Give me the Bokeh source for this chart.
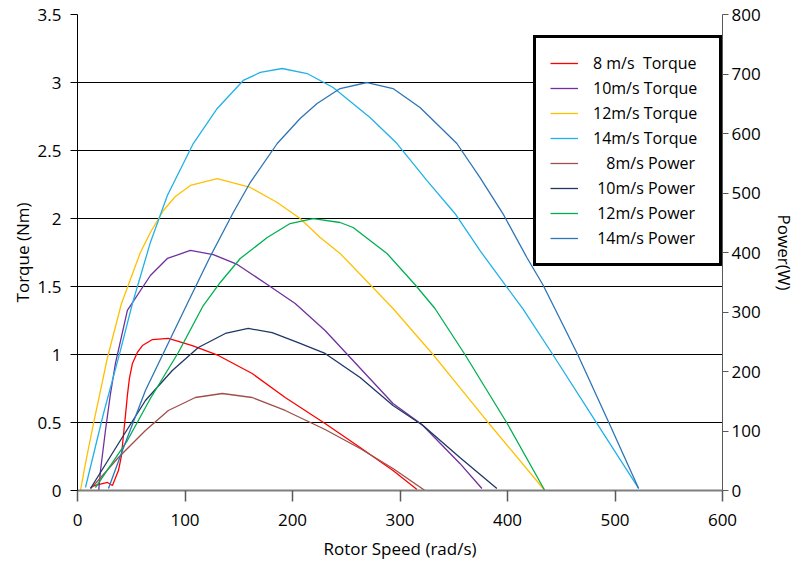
from bokeh.plotting import figure
from bokeh.models import (Range1d, LinearAxis, FixedTicker, Legend, LegendItem,
                          NumeralTickFormatter)
from bokeh.embed import file_html
from bokeh.resources import INLINE

# ---------------- data ----------------
speed_ticks = [0, 100, 200, 300, 400, 500, 600]
torque_ticks = [0, 0.5, 1, 1.5, 2, 2.5, 3, 3.5]
power_ticks = [0, 100, 200, 300, 400, 500, 600, 700, 800]

# torque curves (left axis, Nm)
t8_speed = [12.1, 16.7, 23.2, 27.9, 32.5, 38.1, 40.9, 42.7, 44.6, 46.4, 48.3, 51.1, 55.7,
            60.4, 69.7, 84.5, 106.8, 131.0, 162.5, 193.2, 230.3, 262.9, 293.5, 315.8]
t8_torque = [0.022, 0.037, 0.051, 0.059, 0.037, 0.147, 0.257, 0.404, 0.551, 0.699, 0.824,
             0.934, 1.015, 1.066, 1.110, 1.118, 1.066, 0.993, 0.860, 0.684, 0.493, 0.316,
             0.147, 0.007]

t10_speed = [19.5, 21.4, 26.0, 30.7, 35.3, 46.4, 67.8, 83.6, 105.0, 126.3, 148.6, 176.5,
             202.5, 230.3, 293.5, 320.4, 355.7, 376.2]
t10_torque = [-0.022, 0.147, 0.441, 0.713, 0.934, 1.324, 1.581, 1.706, 1.765, 1.735, 1.662,
              1.515, 1.375, 1.176, 0.640, 0.485, 0.199, 0.015]

t12_speed = [2.8, 7.4, 14.9, 27.9, 40.9, 58.5, 67.8, 79.9, 91.0, 105.0, 130.0, 160.7, 185.8,
             207.1, 225.7, 244.3, 272.1, 293.5, 330.7, 355.7, 383.6, 434.7]
t12_torque = [0.0, 0.199, 0.493, 0.978, 1.375, 1.750, 1.897, 2.059, 2.162, 2.243, 2.294,
              2.228, 2.118, 2.000, 1.860, 1.743, 1.515, 1.338, 1.000, 0.757, 0.485, 0.0]

t14_speed = [7.4, 24.2, 39.9, 51.1, 67.8, 83.6, 107.7, 130.0, 154.2, 170.0, 190.4, 213.6,
             237.8, 272.1, 297.2, 325.1, 351.1, 374.3, 397.5, 414.2, 442.1, 483.9, 522.0]
t14_torque = [0.022, 0.566, 1.029, 1.375, 1.824, 2.169, 2.551, 2.809, 3.015, 3.074, 3.103,
              3.066, 2.963, 2.743, 2.551, 2.279, 2.037, 1.765, 1.515, 1.338, 1.000, 0.485,
              0.015]

# power curves (right axis, W)
p8_speed = [12.1, 16.7, 38.1, 63.2, 84.5, 109.6, 134.7, 162.5, 193.2, 230.3, 262.9, 293.5,
            323.2]
p8_power = [3.4, 11.8, 55.5, 100.8, 134.5, 156.3, 163.0, 156.3, 134.5, 102.5, 70.6, 37.0, 0]

p10_speed = [12.1, 38.1, 63.2, 88.2, 112.4, 137.5, 158.8, 181.1, 205.3, 230.3, 262.9, 293.5,
             321.4, 355.7, 390.1]
p10_power = [3.4, 79.0, 151.3, 201.7, 240.3, 263.9, 272.3, 265.5, 248.7, 230.3, 189.9,
             142.9, 109.2, 55.5, 3.4]

p12_speed = [16.7, 46.4, 67.8, 93.8, 117.0, 132.8, 151.4, 176.5, 197.8, 219.2, 244.3, 256.4,
             287.9, 313.9, 332.5, 360.4, 400.3, 434.7]
p12_power = [5.0, 84.0, 154.6, 231.9, 310.9, 349.6, 389.9, 425.2, 448.7, 457.1, 450.4,
             442.0, 398.3, 346.2, 305.9, 228.6, 110.9, 0]

p14_speed = [28.8, 41.8, 63.2, 102.2, 123.5, 144.9, 160.7, 185.8, 207.1, 222.9, 244.3, 269.4,
             293.5, 318.6, 352.9, 374.3, 395.7, 418.0, 432.8, 444.0, 465.3, 495.1, 522.0]
p14_power = [3.4, 67.2, 168.1, 314.3, 393.3, 467.2, 517.6, 583.2, 625.2, 650.4, 675.6, 685.7,
             675.6, 643.7, 583.2, 526.1, 465.5, 391.6, 346.2, 305.9, 228.6, 110.9, 3.4]

legend_labels = ["8 m/s\u00a0 Torque", "10m/s Torque", "12m/s Torque", "14m/s Torque",
                 "\u2007\u00a08m/s Power", "\u00a010m/s Power", "\u00a012m/s Power",
                 "\u00a014m/s Power"]
legend_colors = ["#4A86C8", "#7A3FB0", "#FFC000", "#22B8F0",
                 "#2A7CC6", "#95B3D7", "#3DBE6E", "#FF3333"]

# ---------------- figure ----------------
FONT = "Open Sans"

p = figure(width=798, height=562, x_range=Range1d(0, 600), y_range=Range1d(0, 3.5),
           output_backend="svg", toolbar_location=None,
           min_border_left=77, min_border_right=75, min_border_top=14, min_border_bottom=72)
p.extra_y_ranges = {"power": Range1d(0, 800)}
p.outline_line_color = None
p.background_fill_color = "white"

p.xgrid.visible = False
p.ygrid.grid_line_color = "black"
p.ygrid.grid_line_width = 1
p.ygrid.ticker = FixedTicker(ticks=torque_ticks)

# bottom axis
xa = p.xaxis[0]
xa.ticker = FixedTicker(ticks=speed_ticks)
xa.axis_label = "Rotor Speed (rad/s)"
xa.axis_line_color = "#7F7F7F"
xa.axis_line_width = 2
xa.major_tick_line_color = "#595959"
xa.major_tick_line_width = 1.5
xa.major_tick_out = 11
xa.major_tick_in = 0
xa.major_label_standoff = 12
xa.axis_label_standoff = 8

# left axis
ya = p.yaxis[0]
ya.ticker = FixedTicker(ticks=torque_ticks)
ya.formatter = NumeralTickFormatter(format="0.[0]")
ya.axis_label = "Torque (Nm)"
ya.axis_line_color = "black"
ya.major_tick_line_color = "black"
ya.major_tick_out = 7
ya.major_tick_in = 0
ya.major_label_standoff = 9
ya.axis_label_standoff = 1

# right axis
ra = LinearAxis(y_range_name="power", ticker=FixedTicker(ticks=power_ticks),
                axis_label="Power(W)")
ra.axis_line_color = "#595959"
ra.major_tick_line_color = "#595959"
ra.major_tick_out = 6
ra.major_tick_in = 0
ra.major_label_standoff = 3
ra.axis_label_standoff = 9
p.add_layout(ra, "right")

for ax in (xa, ya, ra):
    ax.minor_tick_line_color = None
    ax.major_label_text_font = FONT
    ax.major_label_text_font_size = "17px"
    ax.major_label_text_color = "black"
    ax.axis_label_text_font = FONT
    ax.axis_label_text_font_size = "17px"
    ax.axis_label_text_font_style = "normal"
    ax.axis_label_text_color = "black"

# curves
LW = 1.3
r_t8 = p.line(t8_speed, t8_torque, color="#FF0000", line_width=LW)
r_t10 = p.line(t10_speed, t10_torque, color="#7030A0", line_width=LW)
r_t12 = p.line(t12_speed, t12_torque, color="#FFC000", line_width=LW)
r_t14 = p.line(t14_speed, t14_torque, color="#21B1E8", line_width=LW)
r_p8 = p.line(p8_speed, p8_power, color="#A0504A", line_width=LW, y_range_name="power")
r_p10 = p.line(p10_speed, p10_power, color="#1F3864", line_width=LW, y_range_name="power")
r_p12 = p.line(p12_speed, p12_power, color="#00B050", line_width=LW, y_range_name="power")
r_p14 = p.line(p14_speed, p14_power, color="#2E75B6", line_width=LW, y_range_name="power")
curves = [r_t8, r_t10, r_t12, r_t14, r_p8, r_p10, r_p12, r_p14]

items = []
for lbl, col, rend in zip(legend_labels, legend_colors, curves):
    swatch = p.line(x=[], y=[], color=col, line_width=2)
    items.append(LegendItem(label=lbl, renderers=[swatch, rend]))

legend = Legend(items=items, location=(456, 224), margin=0,
                border_line_color="black", border_line_width=3, border_line_alpha=1.0,
                background_fill_color="white", background_fill_alpha=1.0,
                padding=14, spacing=3, glyph_width=28, glyph_height=20,
                label_standoff=15, label_height=20, label_width=112,
                label_text_font=FONT, label_text_font_size="16px",
                label_text_color="black")
p.add_layout(legend)

open("out.html", "w").write(file_html(p, INLINE))
